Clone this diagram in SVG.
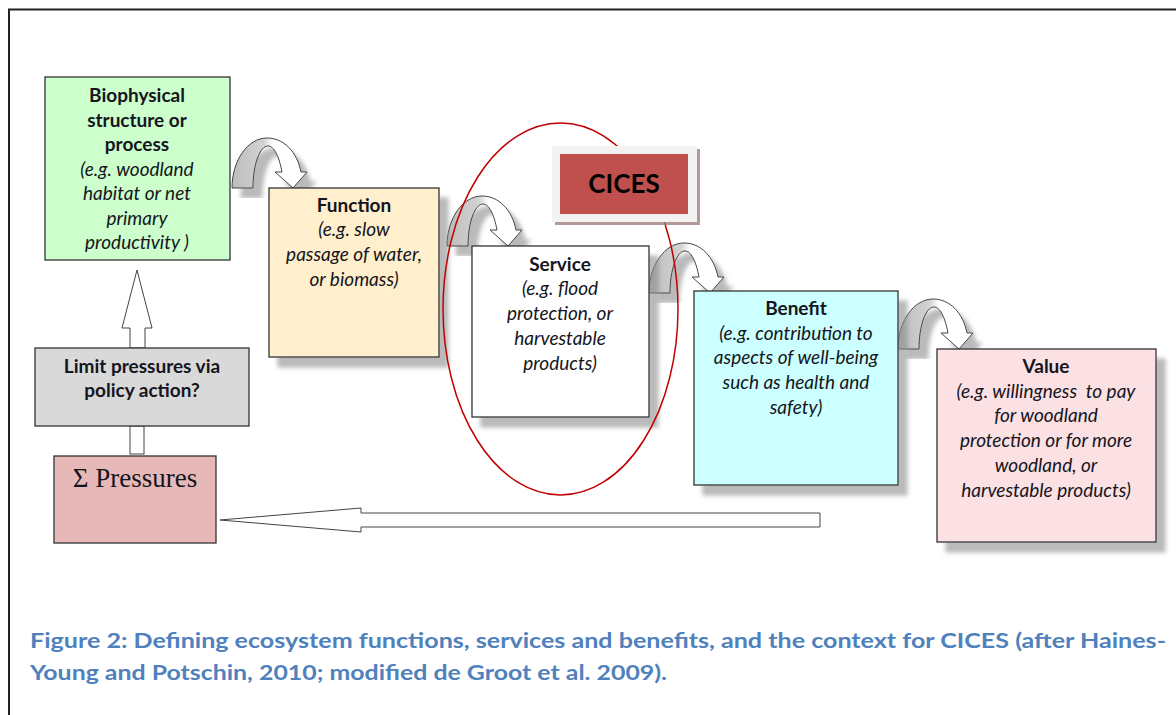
<svg xmlns="http://www.w3.org/2000/svg" width="1176" height="715" viewBox="0 0 1176 715">
<style>
.box{stroke:#333;stroke-width:1.3}
.t{font-family:Lato,"Open Sans","Liberation Sans",sans-serif;font-size:19px;fill:#151520;text-anchor:middle}
.b{font-weight:bold}
.i{font-style:italic}
.arr{fill:url(#ag);stroke:#444;stroke-width:1}
.sarr{fill:#fff;stroke:#444;stroke-width:1}
.cap{font-family:Lato,"Open Sans","Liberation Sans",sans-serif;font-size:21px;font-weight:bold;fill:#4f81bd}
</style>
<defs>
<linearGradient id="ag" x1="0" y1="0" x2="1" y2="0">
<stop offset="0" stop-color="#bdbdbd"/>
<stop offset="0.42" stop-color="#d2d2d2"/>
<stop offset="0.55" stop-color="#ffffff"/>
<stop offset="1" stop-color="#ffffff"/>
</linearGradient>
<filter id="sh" x="-10%" y="-10%" width="130%" height="130%">
<feGaussianBlur in="SourceAlpha" stdDeviation="2"/>
<feOffset dx="9" dy="10" result="o"/>
<feFlood flood-color="#8c8c8c" flood-opacity="0.6"/>
<feComposite in2="o" operator="in"/>
<feMerge><feMergeNode/><feMergeNode in="SourceGraphic"/></feMerge>
</filter>
<filter id="sh2" x="-10%" y="-10%" width="130%" height="130%">
<feOffset in="SourceAlpha" dx="3" dy="3" result="o"/>
<feFlood flood-color="#a08080" flood-opacity="0.8"/>
<feComposite in2="o" operator="in"/>
<feMerge><feMergeNode/><feMergeNode in="SourceGraphic"/></feMerge>
</filter>
<path id="curve" d="M0,0 C0,-28 16,-50 35,-50 C52,-50 65,-36 69,-16 L75,-16 L61,0 L43,-16 L50,-16 C47,-32 42,-42 36,-42 C28,-42 21,-24 21,0 Z"/>
</defs>
<rect width="1176" height="715" fill="#fff"/>
<path d="M9,715 V9.5 H1176" fill="none" stroke="#222" stroke-width="2"/>

<g id="connectors">
<use href="#curve" class="arr" transform="translate(232,188)" filter="url(#sh)"/>
<use href="#curve" class="arr" transform="translate(447,246)" filter="url(#sh)"/>
<use href="#curve" class="arr" transform="translate(649,293)" filter="url(#sh)"/>
<use href="#curve" class="arr" transform="translate(898,349)" filter="url(#sh)"/>
<path class="sarr" d="M130,348 V328 H122 L137,270 L152,328 H145 V348 Z"/>
<rect class="sarr" x="130" y="426" width="14" height="28"/>
<path class="sarr" d="M820,513 V527 H361 V532 L220,520 L361,508 V513 Z"/>
</g>

<g id="biophysical">
<rect class="box" x="45" y="77" width="185" height="183" fill="#ccffcc"/>
<text class="t b" x="137" y="102">Biophysical</text>
<text class="t b" x="137" y="127">structure or</text>
<text class="t b" x="137" y="151">process</text>
<text class="t i" x="137" y="176">(e.g. woodland</text>
<text class="t i" x="137" y="200">habitat or net</text>
<text class="t i" x="137" y="225">primary</text>
<text class="t i" x="137" y="249">productivity )</text>
</g>

<g id="function">
<rect class="box" x="269" y="188" width="170" height="169" fill="#ffefcc" filter="url(#sh)"/>
<text class="t b" x="354" y="212">Function</text>
<text class="t i" x="354" y="236">(e.g. slow</text>
<text class="t i" x="354" y="261">passage of water,</text>
<text class="t i" x="354" y="286">or biomass)</text>
</g>

<g id="service">
<rect class="box" x="472" y="246" width="177" height="171" fill="#ffffff" filter="url(#sh)"/>
<text class="t b" x="560" y="271">Service</text>
<text class="t i" x="560" y="295">(e.g. flood</text>
<text class="t i" x="560" y="320">protection, or</text>
<text class="t i" x="560" y="345">harvestable</text>
<text class="t i" x="560" y="370">products)</text>
</g>

<g id="benefit">
<rect class="box" x="694" y="291" width="204" height="194" fill="#ccffff" filter="url(#sh)"/>
<text class="t b" x="796" y="315">Benefit</text>
<text class="t i" x="796" y="340">(e.g. contribution to</text>
<text class="t i" x="796" y="364">aspects of well-being</text>
<text class="t i" x="796" y="389">such as health and</text>
<text class="t i" x="796" y="414">safety)</text>
</g>

<g id="value">
<rect class="box" x="937" y="349" width="219" height="193" fill="#fbe0e4" filter="url(#sh)"/>
<text class="t b" x="1046" y="373">Value</text>
<text class="t i" x="1046" y="398" xml:space="preserve">(e.g. willingness  to pay</text>
<text class="t i" x="1046" y="422">for woodland</text>
<text class="t i" x="1046" y="447">protection or for more</text>
<text class="t i" x="1046" y="472">woodland, or</text>
<text class="t i" x="1046" y="497">harvestable products)</text>
</g>

<g id="limit">
<rect class="box" x="35" y="348" width="214" height="78" fill="#d9d9d9"/>
<text class="t b" x="142" y="373">Limit pressures via</text>
<text class="t b" x="142" y="397">policy action?</text>
</g>

<g id="pressures">
<rect class="box" x="54" y="456" width="162" height="87" fill="#e6b8b7"/>
<text x="135" y="487" font-family="'Liberation Serif',serif" font-size="27" fill="#151520" text-anchor="middle">Σ Pressures</text>
</g>

<g id="ellipse">
<ellipse cx="560.5" cy="309" rx="117.5" ry="186" fill="none" stroke="#c00000" stroke-width="1.5"/>
</g>

<g id="cices">
<rect x="552" y="146" width="145" height="76" fill="#f2f2f2" filter="url(#sh2)"/>
<rect x="560" y="154" width="128" height="60" fill="#c0504d"/>
<text x="624" y="193" font-family="Lato,'Open Sans',sans-serif" font-size="26" font-weight="bold" fill="#000" text-anchor="middle">CICES</text>
</g>

<g id="caption">
<text class="cap" x="30" y="648" textLength="1136" lengthAdjust="spacingAndGlyphs">Figure 2: Defining ecosystem functions, services and benefits, and the context for CICES (after Haines-</text>
<text class="cap" x="30" y="680" textLength="637" lengthAdjust="spacingAndGlyphs">Young and Potschin, 2010; modified de Groot et al. 2009).</text>
</g>
</svg>
